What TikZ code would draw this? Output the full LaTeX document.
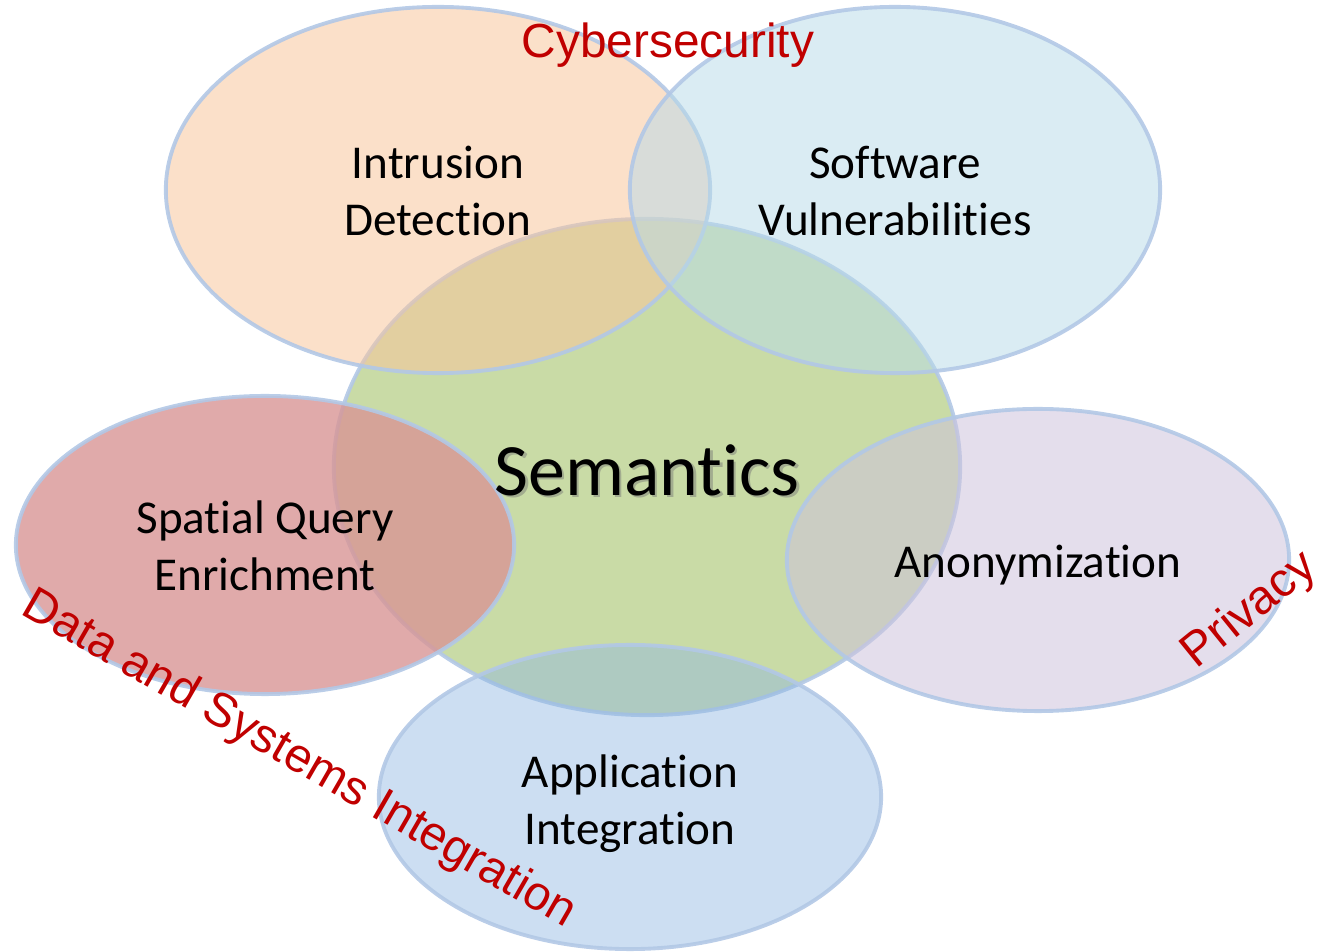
\documentclass[tikz,border=0pt]{standalone}
\usepackage{fontspec}
\setmainfont{Carlito}[Ligatures=NoCommon]
\newfontfamily\labelfont{Liberation Sans}
\usetikzlibrary{shapes.geometric}

\definecolor{rimblue}{RGB}{178,200,230}
\definecolor{fillgreen}{RGB}{201,219,166}
\definecolor{fillorange}{RGB}{248,197,155}
\definecolor{fillsky}{RGB}{185,219,232}
\definecolor{fillred}{RGB}{216,149,149}
\definecolor{filllilac}{RGB}{206,195,220}
\definecolor{fillblue}{RGB}{142,182,226}
\definecolor{areared}{RGB}{192,0,0}

\tikzset{
  topic/.style={ellipse, draw=rimblue, line width=1.1pt, draw opacity=0.9,
    inner sep=0pt},
  topictext/.style={align=center, inner sep=0pt,
    font=\fontsize{13.4}{16.2}\selectfont},
  area/.style={text=areared, font=\labelfont\fontsize{13.6}{16}\selectfont, inner sep=0pt},
}

\begin{document}
\begin{tikzpicture}[x=0.01cm, y=-0.01cm]
  \useasboundingbox (0,0) rectangle (1323,952);

  % central topic
  \node[topic, fill=fillgreen, minimum width=6.26cm, minimum height=4.96cm] (sem) at (647,467) {};

  % surrounding topics, translucent over the centre
  \node[topic, fill=fillorange, fill opacity=0.54, minimum width=5.44cm, minimum height=3.66cm] (ids) at (438,190) {};
  \node[topic, fill=fillsky, fill opacity=0.53, minimum width=5.30cm, minimum height=3.66cm] (vul) at (895,190) {};
  \node[topic, fill=fillred, fill opacity=0.8, minimum width=4.98cm, minimum height=2.98cm] (sqe) at (265,545) {};
  \node[topic, fill=filllilac, fill opacity=0.55, minimum width=5.02cm, minimum height=3.02cm] (ano) at (1038,560) {};
  \node[topic, fill=fillblue, fill opacity=0.45, minimum width=5.02cm, minimum height=3.04cm] (app) at (630,797) {};

  % topic texts
  \node[topictext] (idsText) at (438,191) {Intrusion\\Detection};
  \node[topictext] (vulText) at (895,191) {Software\\Vulnerabilities};
  \node[topictext] (sqeText) at (265,546) {Spatial Query\\Enrichment};
  \node[topictext] (anoText) at (1038,565) {Anonymization};
  \node[topictext] (appText) at (630,804) {Application\\Integration};

  % central title with its soft shadow
  \node[font=\fontsize{21}{24}\selectfont, text=black!55, opacity=0.45] at (649.5,472.5) {Semantics};
  \node[font=\fontsize{21}{24}\selectfont] (semText) at (647,470) {Semantics};

  % research areas
  \node[area] (cyber) at (668,45) {Cybersecurity};
  \node[area, rotate=-30] (dsi) at (299,760) {Data and Systems Integration};
  \node[area, rotate=39] (priv) at (1250,611) {Privacy};
\end{tikzpicture}
\end{document}
